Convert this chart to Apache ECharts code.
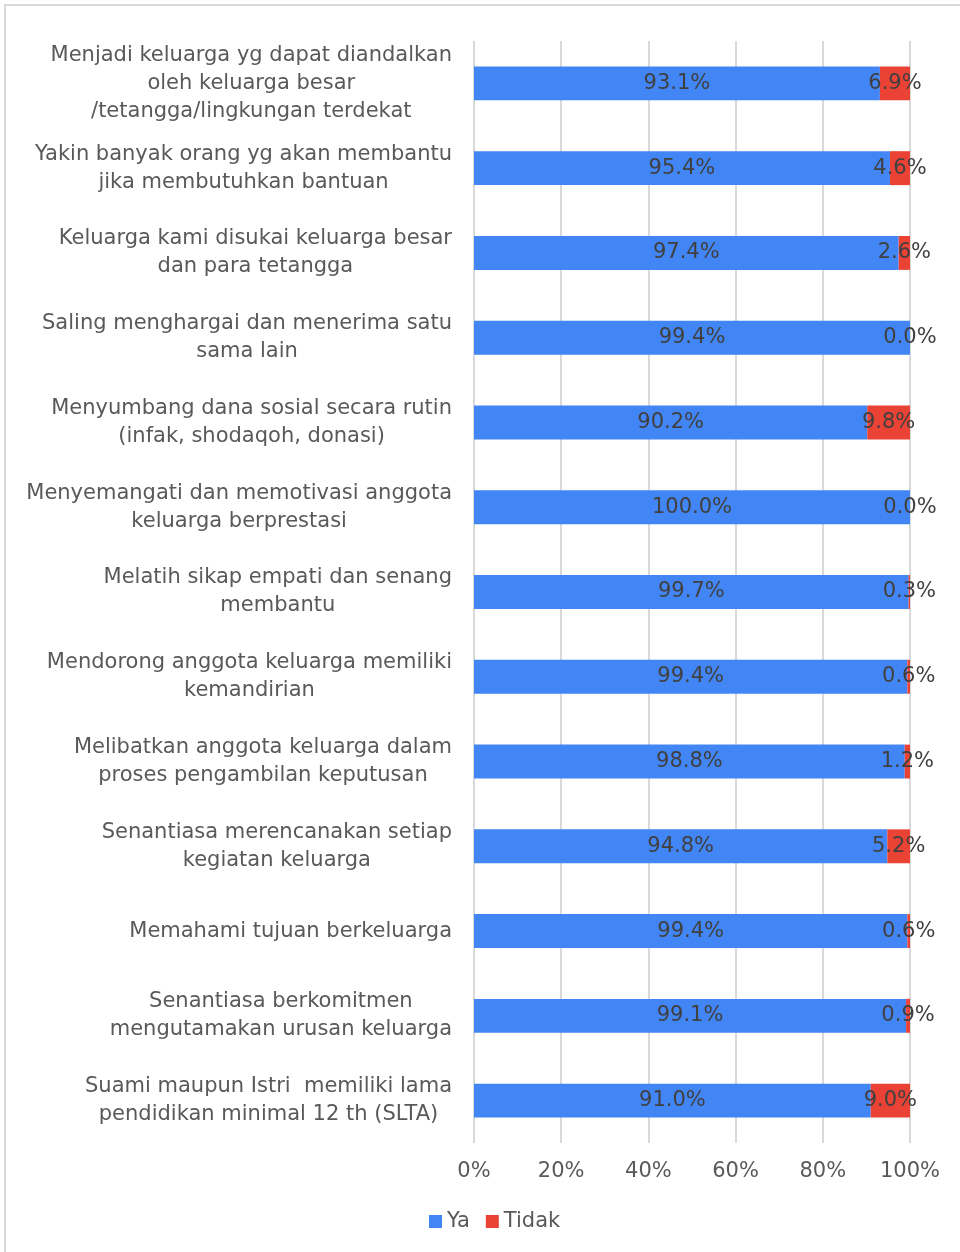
<!DOCTYPE html>
<html>
<head>
<meta charset="utf-8">
<script src="https://cdn.jsdelivr.net/npm/echarts@6/dist/echarts.min.js"></script>
<style>
html,body{margin:0;padding:0;background:#fff;}
#chart{width:960px;height:1252px;}
</style>
</head>
<body>
<div id="chart"></div>
<script>
const categories = [
  "Menjadi keluarga yg dapat diandalkan\noleh keluarga besar\n/tetangga/lingkungan terdekat",
  "Yakin banyak orang yg akan membantu\njika membutuhkan bantuan",
  "Keluarga kami disukai keluarga besar\ndan para tetangga",
  "Saling menghargai dan menerima satu\nsama lain",
  "Menyumbang dana sosial secara rutin\n(infak, shodaqoh, donasi)",
  "Menyemangati dan memotivasi anggota\nkeluarga berprestasi",
  "Melatih sikap empati dan senang\nmembantu",
  "Mendorong anggota keluarga memiliki\nkemandirian",
  "Melibatkan anggota keluarga dalam\nproses pengambilan keputusan",
  "Senantiasa merencanakan setiap\nkegiatan keluarga",
  "Memahami tujuan berkeluarga",
  "Senantiasa berkomitmen\nmengutamakan urusan keluarga",
  "Suami maupun Istri  memiliki lama\npendidikan minimal 12 th (SLTA)"
];
const ya    = [93.1, 95.4, 97.4, 99.4, 90.2, 100.0, 99.7, 99.4, 98.8, 94.8, 99.4, 99.1, 91.0];
const tidak = [6.9, 4.6, 2.6, 0.0, 9.8, 0.0, 0.3, 0.6, 1.2, 5.2, 0.6, 0.9, 9.0];
const xTicks = [0, 20, 40, 60, 80, 100];

// 100% stacked: normalise shares, labels show original values
const yaShare = ya.map((v, i) => v / (v + tidak[i]) * 100);
const tidakShare = tidak.map((v, i) => v / (ya[i] + v) * 100);

const FONT = "'DejaVu Sans', Verdana, sans-serif";
const chart = echarts.init(document.getElementById('chart'), null, {renderer: 'canvas'});
const labelStyle = (orig) => ({
  show: true,
  position: 'inside',
  color: '#404040',
  fontFamily: FONT,
  fontSize: 21,
  formatter: p => orig[p.dataIndex].toFixed(1) + '%'
});
chart.setOption({
  animation: false,
  graphic: [{
    type: 'rect',
    shape: {x: 5, y: 5, width: 1000, height: 1260},
    style: {fill: 'none', stroke: '#d9d9d9', lineWidth: 2},
    silent: true
  }],
  grid: {left: 474, right: 50, top: 41, bottom: 109, containLabel: false},
  xAxis: {
    type: 'value', min: xTicks[0], max: xTicks[xTicks.length - 1], interval: xTicks[1] - xTicks[0],
    axisLabel: {formatter: '{value}%', color: '#595959', fontFamily: FONT, fontSize: 21, margin: 18},
    axisLine: {show: false}, axisTick: {show: false},
    splitLine: {show: true, lineStyle: {color: '#d9d9d9', width: 2}}
  },
  yAxis: {
    type: 'category', inverse: true, data: categories,
    axisLine: {show: false}, axisTick: {show: false},
    axisLabel: {
      margin: 22, align: 'right', color: '#595959', fontFamily: FONT, fontSize: 21, lineHeight: 28,
      formatter: v => v.split('\n').map(l => '{c|' + l + '}').join('\n'),
      rich: {c: {align: 'center', color: '#595959', fontFamily: FONT, fontSize: 21, lineHeight: 28}}
    }
  },
  legend: {
    bottom: 15, left: 424, itemWidth: 13, itemHeight: 13, itemGap: 16,
    icon: 'rect',
    textStyle: {color: '#595959', fontFamily: FONT, fontSize: 21, padding: [0, 0, 0, 0]},
    data: ['Ya', 'Tidak']
  },
  series: [
    {name: 'Ya', type: 'bar', stack: 't', data: yaShare, barWidth: '40%',
     itemStyle: {color: '#4285F4'}, label: labelStyle(ya)},
    {name: 'Tidak', type: 'bar', stack: 't', data: tidakShare, barWidth: '40%',
     itemStyle: {color: '#EA4335'}, label: labelStyle(tidak)}
  ]
});
</script>
</body>
</html>
